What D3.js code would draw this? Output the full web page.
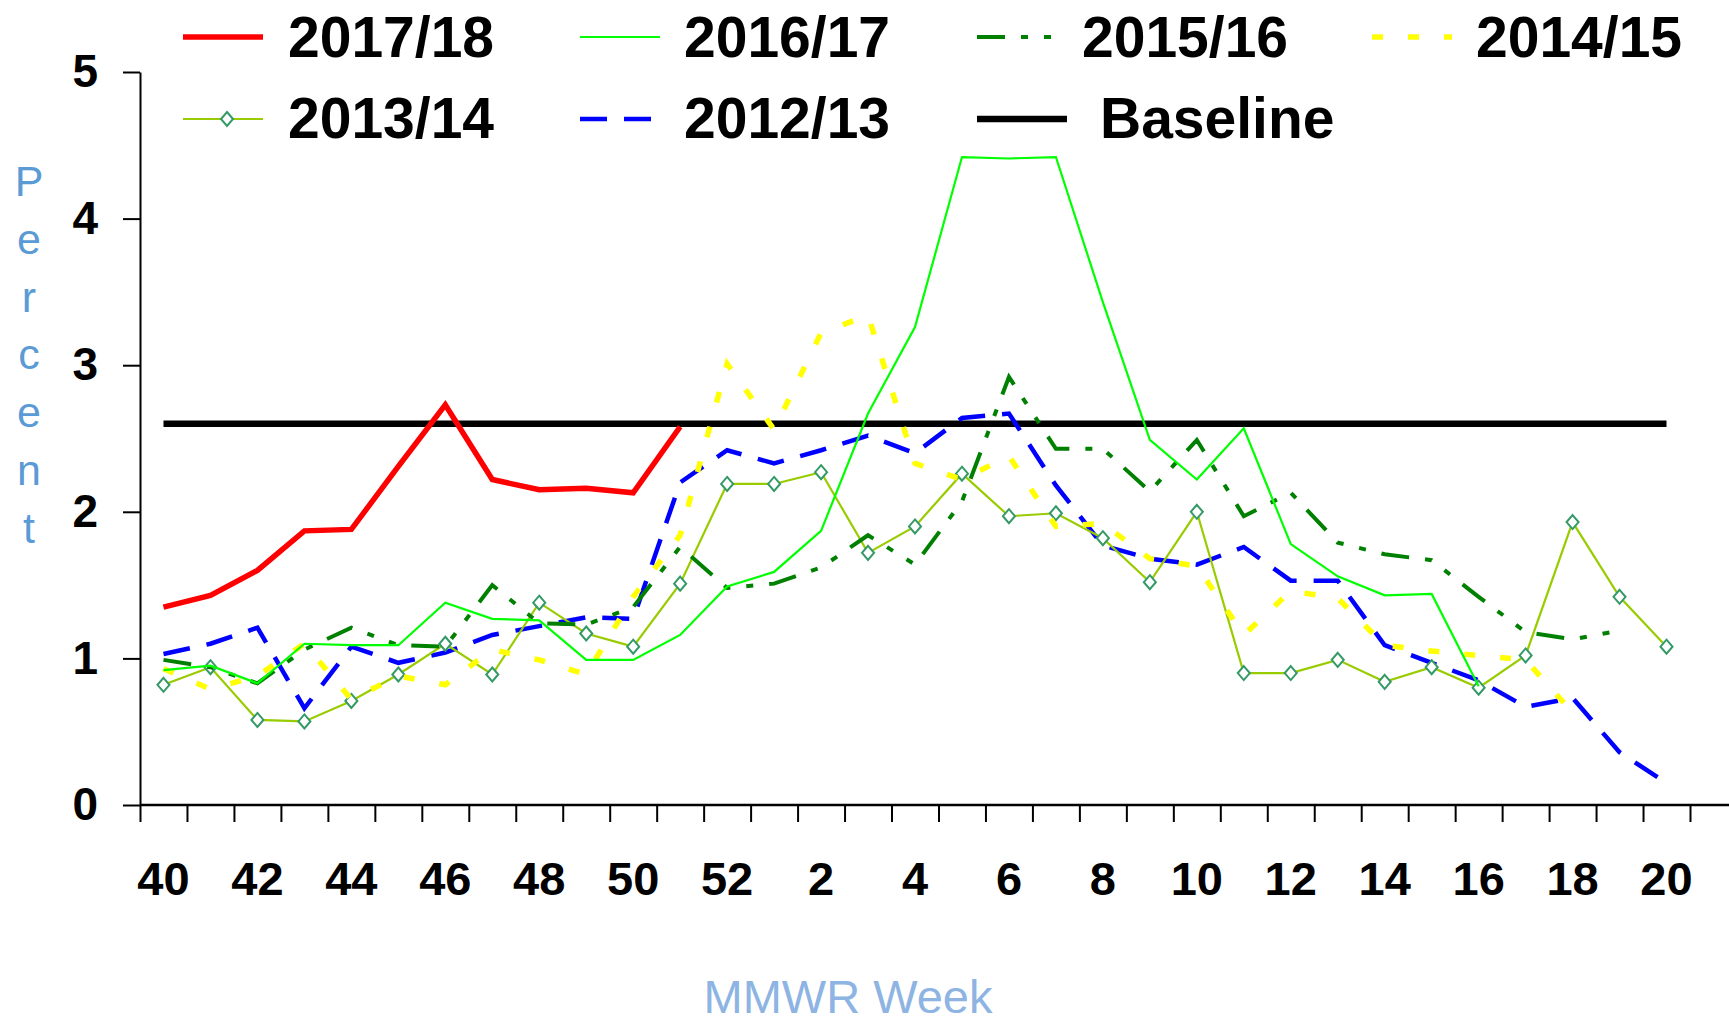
<!DOCTYPE html>
<html>
<head>
<meta charset="utf-8">
<script src="https://cdn.jsdelivr.net/npm/d3@7"></script>
<style>
  body { margin: 0; background: #fff; }
  svg { display: block; font-family: "Liberation Sans", Arial, sans-serif; }
</style>
</head>
<body>
<div id="chart"></div>
<script>
// MMWR weeks of the season, 40 .. 52 then 1 .. 20
const weeks = [40, 41, 42, 43, 44, 45, 46, 47, 48, 49, 50, 51, 52,
  1, 2, 3, 4, 5, 6, 7, 8, 9, 10, 11, 12, 13, 14, 15, 16, 17, 18, 19, 20];
const weekTickLabels = [40, 42, 44, 46, 48, 50, 52, 2, 4, 6, 8, 10, 12, 14, 16, 18, 20];
const yTicks = [0, 1, 2, 3, 4, 5];

// percent values, one per week starting at week 40
const season1718 = [1.35, 1.43, 1.60, 1.87, 1.88, 2.31, 2.73, 2.22, 2.15, 2.16, 2.13, 2.58];
const season1617 = [0.92, 0.95, 0.83, 1.10, 1.09, 1.09, 1.38, 1.27, 1.26, 0.99, 0.99, 1.16, 1.49,
  1.59, 1.87, 2.67, 3.26, 4.42, 4.41, 4.42, 3.43, 2.49, 2.22, 2.57, 1.78, 1.56, 1.43, 1.44, 0.81];
const season1516 = [0.99, 0.94, 0.83, 1.06, 1.21, 1.09, 1.08, 1.50, 1.24, 1.23, 1.35, 1.76, 1.48,
  1.51, 1.62, 1.84, 1.64, 2.07, 2.92, 2.43, 2.43, 2.14, 2.49, 1.97, 2.13, 1.79, 1.71, 1.67, 1.42,
  1.18, 1.13, 1.19];
const season1415 = [0.93, 0.79, 0.88, 1.10, 0.72, 0.88, 0.82, 1.06, 0.99, 0.89, 1.42, 1.84, 3.01,
  2.56, 3.22, 3.34, 2.33, 2.22, 2.38, 1.90, 1.92, 1.68, 1.63, 1.16, 1.46, 1.41, 1.09, 1.05, 1.02,
  0.99, 0.63];
const season1314 = [0.82, 0.94, 0.58, 0.57, 0.71, 0.89, 1.10, 0.89, 1.38, 1.17, 1.08, 1.51, 2.19,
  2.19, 2.27, 1.72, 1.90, 2.26, 1.97, 1.99, 1.82, 1.52, 2.00, 0.90, 0.90, 0.99, 0.84, 0.94, 0.80,
  1.02, 1.93, 1.42, 1.08];
const season1213 = [1.03, 1.10, 1.21, 0.66, 1.08, 0.97, 1.04, 1.16, 1.22, 1.28, 1.27, 2.20, 2.42,
  2.33, 2.42, 2.52, 2.40, 2.64, 2.67, 2.18, 1.77, 1.68, 1.64, 1.76, 1.53, 1.53, 1.09, 0.97, 0.85,
  0.67, 0.73, 0.36, 0.15];
const baselineValue = 2.6;

const W = 1729;
const H = 1017;
const plot = { left: 140, right: 1690, top: 72, bottom: 805 };

const toPoints = (values) => values.map((v, i) => ({ week: weeks[i], value: v }));

// series styles, drawn in this order
const series = [
  { label: "Baseline", values: weeks.map(() => baselineValue), color: "#000", width: 6.5, dash: null },
  { label: "2012/13", values: season1213, color: "#0000FF", width: 4.5, dash: "27,17" },
  { label: "2013/14", values: season1314, color: "#99CC00", width: 2.2, dash: null, marker: true },
  { label: "2014/15", values: season1415, color: "#FFFF00", width: 5.5, dash: "11,25" },
  { label: "2015/16", values: season1516, color: "#008000", width: 4, dash: "28,16,7,16,7,16" },
  { label: "2016/17", values: season1617, color: "#00FF00", width: 2.2, dash: null },
  { label: "2017/18", values: season1718, color: "#FF0000", width: 5.5, dash: null },
];

// legend slots: line start x, row, text x
const legendSlots = {
  "2017/18": { x: 183, row: 0, tx: 288 },
  "2016/17": { x: 580, row: 0, tx: 684 },
  "2015/16": { x: 977, row: 0, tx: 1082 },
  "2014/15": { x: 1372, row: 0, tx: 1476 },
  "2013/14": { x: 183, row: 1, tx: 288 },
  "2012/13": { x: 580, row: 1, tx: 684 },
  "Baseline": { x: 977, row: 1, tx: 1100 },
};
const legendRows = [{ line: 37, text: 57 }, { line: 119, text: 138 }];

const svg = d3.select("#chart").append("svg")
  .attr("width", W)
  .attr("height", H);

svg.append("rect").attr("width", W).attr("height", H).attr("fill", "#fff");

const x = d3.scaleBand().domain(weeks).range([plot.left, plot.right]).padding(0);
const xEdge = d3.scaleLinear().domain([0, weeks.length]).range([plot.left, plot.right]);
const xMid = (w) => x(w) + x.bandwidth() / 2;
const y = d3.scaleLinear().domain([0, 5]).range([plot.bottom, plot.top]);

// diamond marker, slightly taller than wide
const diamond = {
  draw(ctx, size) {
    const h = Math.sqrt(size) / 2;
    const w = h * 0.86;
    ctx.moveTo(0, -h);
    ctx.lineTo(w, 0);
    ctx.lineTo(0, h);
    ctx.lineTo(-w, 0);
    ctx.closePath();
  },
};
const markerPath = d3.symbol().type(diamond).size(196)();

// x axis: ticks on week boundaries
const xTickAxis = svg.append("g")
  .attr("transform", `translate(0,${plot.bottom})`)
  .call(d3.axisBottom(xEdge).tickValues(d3.range(weeks.length + 1)).tickSize(17).tickFormat(""));
xTickAxis.select(".domain").remove();
xTickAxis.selectAll("line").attr("stroke", "#000").attr("stroke-width", 2);

svg.append("line")
  .attr("x1", plot.left)
  .attr("x2", W)
  .attr("y1", plot.bottom)
  .attr("y2", plot.bottom)
  .attr("stroke", "#000")
  .attr("stroke-width", 2.5);

// x labels at week centres
const xLabelAxis = svg.append("g")
  .attr("transform", `translate(0,${plot.bottom})`)
  .call(d3.axisBottom(x).tickValues(weekTickLabels).tickSize(0).tickPadding(57));
xLabelAxis.select(".domain").remove();
xLabelAxis
  .attr("font-family", null)
  .attr("font-size", 47)
  .attr("font-weight", "bold");
xLabelAxis.selectAll("text").attr("fill", "#000");

// y axis
const yAxis = svg.append("g")
  .attr("transform", `translate(${plot.left},0)`)
  .call(d3.axisLeft(y).tickValues(yTicks).tickSize(17).tickSizeOuter(0).tickPadding(25).tickFormat(d3.format("d")));
yAxis
  .attr("font-family", null)
  .attr("font-size", 46)
  .attr("font-weight", "bold");
yAxis.select(".domain").attr("stroke", "#000").attr("stroke-width", 2);
yAxis.selectAll("line").attr("stroke", "#000").attr("stroke-width", 2);
yAxis.selectAll("text").attr("fill", "#000");

// stacked y title
const yTitle = svg.append("text")
  .attr("fill", "#5B9BD5")
  .attr("font-size", 43)
  .attr("text-anchor", "middle");
yTitle.selectAll("tspan")
  .data("Percent".split(""))
  .join("tspan")
  .attr("x", 29)
  .attr("y", (d, i) => 196 + i * 57.8)
  .text((d) => d);

// x title
svg.append("text")
  .attr("x", 848)
  .attr("y", 1013)
  .attr("fill", "#8DB4E2")
  .attr("font-size", 47)
  .attr("text-anchor", "middle")
  .text("MMWR Week");

// lines
const line = d3.line()
  .x((d) => xMid(d.week))
  .y((d) => y(d.value));

series.forEach((s) => {
  const pts = toPoints(s.values);
  svg.append("path")
    .datum(pts)
    .attr("fill", "none")
    .attr("stroke", s.color)
    .attr("stroke-width", s.width)
    .attr("stroke-dasharray", s.dash)
    .attr("d", line);

  if (s.marker) {
    svg.append("g")
      .selectAll("path")
      .data(pts)
      .join("path")
      .attr("transform", (d) => `translate(${xMid(d.week)},${y(d.value)})`)
      .attr("d", markerPath)
      .attr("fill", "#fff")
      .attr("stroke", "#339966")
      .attr("stroke-width", 2);
  }
});

// legend
const legendOrder = ["2017/18", "2016/17", "2015/16", "2014/15", "2013/14", "2012/13", "Baseline"];
const legend = svg.append("g")
  .selectAll("g")
  .data(legendOrder.map((k) => series.find((s) => s.label === k)))
  .join("g");

legend.append("line")
  .attr("x1", (d) => legendSlots[d.label].x)
  .attr("x2", (d) => legendSlots[d.label].x + (d.label === "Baseline" ? 90 : 80))
  .attr("y1", (d) => legendRows[legendSlots[d.label].row].line)
  .attr("y2", (d) => legendRows[legendSlots[d.label].row].line)
  .attr("stroke", (d) => d.color)
  .attr("stroke-width", (d) => d.width)
  .attr("stroke-dasharray", (d) => d.dash);

legend.filter((d) => d.marker)
  .append("path")
  .attr("transform", (d) => `translate(${legendSlots[d.label].x + 44},${legendRows[legendSlots[d.label].row].line})`)
  .attr("d", markerPath)
  .attr("fill", "#fff")
  .attr("stroke", "#339966")
  .attr("stroke-width", 2);

legend.append("text")
  .attr("x", (d) => legendSlots[d.label].tx)
  .attr("y", (d) => legendRows[legendSlots[d.label].row].text)
  .attr("font-size", 57)
  .attr("font-weight", "bold")
  .attr("fill", "#000")
  .text((d) => d.label);
</script>
</body>
</html>
